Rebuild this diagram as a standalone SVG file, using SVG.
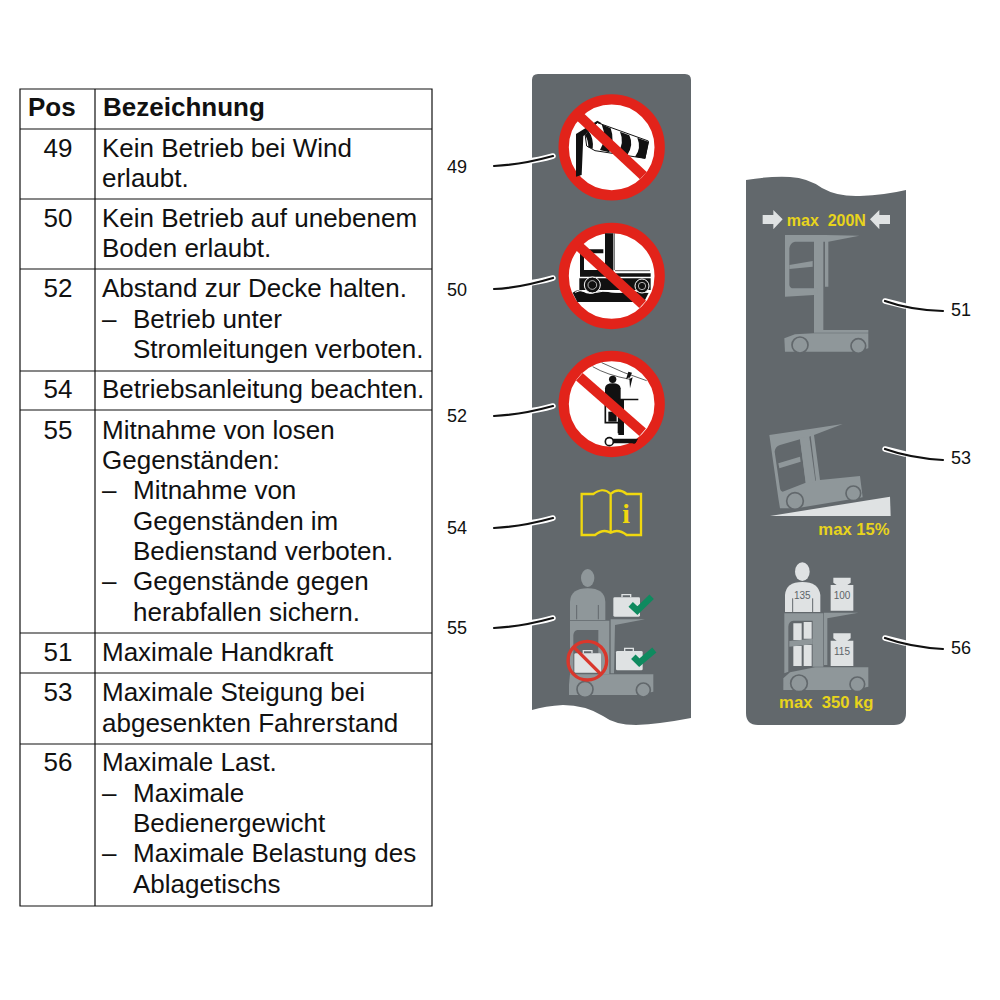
<svg xmlns="http://www.w3.org/2000/svg" width="1000" height="1000" viewBox="0 0 1000 1000">
<style>
text{font-family:"Liberation Sans",Arial,sans-serif;fill:#111}
.t{font-size:26px}
.b{font-weight:bold}
.c{text-anchor:middle}
.n{font-size:18px}
.y{fill:#e8d41c;font-weight:bold}
.w{font-size:30px;fill:#5d6468;text-anchor:middle}
.grid{stroke:#111;stroke-width:1.2;fill:none}
.halo{stroke:#fff;stroke-width:5.5;stroke-linecap:round;fill:none}
.lead{stroke:#111;stroke-width:2.2;stroke-linecap:round;fill:none}
.panel{fill:#62686c}
.g{fill:#8f979a}
.l{fill:#dfe2e3}
.d{fill:#62686c}
.wh{fill:#8f979a;stroke:#62686c;stroke-width:5}
.sl{stroke:#e2231a;stroke-width:30;fill:none}
.k{fill:#111}
.chk{fill:none;stroke:#0f8a5f;stroke-width:19}
</style>
<rect width="1000" height="1000" fill="#fff"/>
<g id="table">
<path class="grid" d="M20 89H432V906H20ZM95 89V906M20 129H432M20 199H432M20 269H432M20 371H432M20 410H432M20 633H432M20 673H432M20 744H432"/>
<text class="t b" x="28" y="116">Pos</text><text class="t b" x="103" y="116">Bezeichnung</text>
<text class="t c" x="58" y="157">49</text><text class="t" x="102" y="157">Kein Betrieb bei Wind</text><text class="t" x="102" y="187">erlaubt.</text>
<text class="t c" x="58" y="227">50</text><text class="t" x="102" y="227">Kein Betrieb auf unebenem</text><text class="t" x="102" y="257">Boden erlaubt.</text>
<text class="t c" x="58" y="297">52</text><text class="t" x="102" y="297">Abstand zur Decke halten.</text><text class="t" x="102" y="328">–</text><text class="t" x="133" y="328">Betrieb unter</text><text class="t" x="133" y="358">Stromleitungen verboten.</text>
<text class="t c" x="58" y="398">54</text><text class="t" x="102" y="398">Betriebsanleitung beachten.</text>
<text class="t c" x="58" y="439">55</text><text class="t" x="102" y="439">Mitnahme von losen</text><text class="t" x="102" y="469">Gegenständen:</text><text class="t" x="102" y="499">–</text><text class="t" x="133" y="499">Mitnahme von</text><text class="t" x="133" y="530">Gegenständen im</text><text class="t" x="133" y="560">Bedienstand verboten.</text><text class="t" x="102" y="590">–</text><text class="t" x="133" y="590">Gegenstände gegen</text><text class="t" x="133" y="621">herabfallen sichern.</text>
<text class="t c" x="58" y="661">51</text><text class="t" x="102" y="661">Maximale Handkraft</text>
<text class="t c" x="58" y="701">53</text><text class="t" x="102" y="701">Maximale Steigung bei</text><text class="t" x="102" y="732">abgesenkten Fahrerstand</text>
<text class="t c" x="58" y="771">56</text><text class="t" x="102" y="771">Maximale Last.</text><text class="t" x="102" y="802">–</text><text class="t" x="133" y="802">Maximale</text><text class="t" x="133" y="832">Bedienergewicht</text><text class="t" x="102" y="862">–</text><text class="t" x="133" y="862">Maximale Belastung des</text><text class="t" x="133" y="893">Ablagetischs</text>
</g>
<g id="panel-left"><path class="panel" d="M532 80Q532 74 538 74H685Q691 74 691 80V718Q660 724 636 725Q615 725 603 716Q585 705 563 705Q545 706 532 710Z"/></g>
<g id="panel-right"><path class="panel" d="M746 180Q770 176 790 177Q808 178 822 188Q838 197 860 196Q885 195 906 190V713Q906 725 894 725H758Q746 725 746 713Z"/></g>
<g id="sign-49" transform="translate(520 60) scale(.33333)">
<circle cx="275" cy="262" r="144" fill="#fff" stroke="#e2231a" stroke-width="31"/>
<path class="k" d="M168 350V222L232 182 245 190 190 228 185 345Z"/>
<path d="M195 222L232 188 385 243 375 295 225 272 200 258Z" fill="#fff" stroke="#111" stroke-width="3"/>
<path class="k" d="M195 225L205 212Q222 235 218 266L205 262Q205 240 195 225ZM245 193L272 205Q285 240 268 277L240 270Q262 235 245 193ZM300 215L328 226Q342 255 322 285L292 280Q315 250 300 215ZM352 233L387 246 376 296 345 290Q365 265 352 233Z"/>
<path class="sl" d="M180 170L370 347"/>
</g>
<g id="sign-50" transform="translate(520 60) scale(.33333)">
<circle cx="275" cy="648" r="144" fill="#fff" stroke="#e2231a" stroke-width="31"/>
<path class="k" d="M255 520H280V640H255ZM180 568H250V580H192V630H255V640H180ZM180 640H392V650H180ZM178 655H392V690H178Z"/>
<path d="M283 520V630M285 632H390" stroke="#111" stroke-width="2" fill="none"/>
<path d="M158 698Q175 685 190 695T225 698T260 695T295 698T330 695T365 698L386 698 372 726H172Z" class="k"/>
<path d="M165 697Q180 688 195 695T230 697T265 694T300 697T335 694T385 697" stroke="#fff" stroke-width="3" fill="none"/>
<circle cx="217" cy="675" r="24" fill="#111" stroke="#fff" stroke-width="3"/><circle cx="217" cy="675" r="13" fill="#111" stroke="#fff" stroke-width="2"/>
<circle cx="366" cy="678" r="21" fill="#111" stroke="#fff" stroke-width="3"/><circle cx="366" cy="678" r="11" fill="#111" stroke="#fff" stroke-width="2"/>
<path class="sl" d="M178 560L368 733"/>
</g>
<g id="sign-52" transform="translate(520 340) scale(.33333)">
<circle cx="275" cy="192" r="144" fill="#fff" stroke="#e2231a" stroke-width="31"/>
<path d="M218 80Q260 105 330 118M245 68Q310 100 380 122" stroke="#111" stroke-width="2" fill="none"/>
<path class="k" d="M325 95L318 118 328 112 330 145 338 112 328 117 336 98Z"/>
<circle class="k" cx="278" cy="118" r="11"/>
<path class="k" d="M255 145Q256 130 278 130T302 145V190H255Z"/>
<path class="k" d="M295 176H355V181H310L304 280H293V200H255V180H295Z"/>
<path d="M256 190H296V248H256Z" fill="#fff" stroke="#111" stroke-width="5"/>
<path d="M265 215H290V245H265Z" class="k"/>
<path class="k" d="M295 180H312V285H295Z"/>
<path class="k" d="M255 296H355L345 310H270Z"/><circle cx="268" cy="305" r="12" fill="#fff" stroke="#111" stroke-width="5"/>
<circle cx="342" cy="304" r="7" class="k"/>
<path class="sl" d="M178 110L368 277"/>
</g>
<g id="sign-54" transform="translate(520 340) scale(.33333)" fill="none" stroke="#f0d80f" stroke-width="7">
<path d="M272 462V578M272 462C255 445 235 450 220 462H185V585H225Q250 565 272 578Q295 565 320 585H363V462H320C305 450 290 445 272 462Z"/>
<text x="318" y="549" font-size="82" style="font-family:'Liberation Serif',serif;font-weight:bold;fill:#f0d80f;stroke:none" text-anchor="middle">i</text>
</g>
<g id="sign-55" transform="translate(520 340) scale(.33333)">
<ellipse class="g" cx="203" cy="714" rx="20" ry="27"/>
<path class="g" d="M150 840V785Q152 745 203 745T256 785V840Z"/>
<path d="M170 795V838M235 795V838" stroke="#62686c" stroke-width="3"/>
<path class="g" d="M150 842H268V1003H235V870H172Q162 872 160 885V1003H150ZM272 838H375L285 855 282 1000H272Z"/>
<path class="g" d="M150 1003H400V1055L350 1065H147V1035Z"/>
<circle class="wh" cx="195" cy="1048" r="24"/><circle class="wh" cx="370" cy="1050" r="21"/>
<rect class="l" x="280" y="772" width="80" height="58" rx="4"/><path d="M306 772V764H332V772" fill="none" stroke="#dfe2e3" stroke-width="4"/>
<path class="chk" d="M332 793L352 812 395 770"/>
<rect class="l" x="288" y="933" width="80" height="58" rx="4"/><path d="M314 933V925H340V933" fill="none" stroke="#dfe2e3" stroke-width="4"/>
<path class="chk" d="M340 950L358 968 403 930"/>
<rect class="l" x="163" y="940" width="80" height="58" rx="4"/><path d="M190 940V932H216V940" fill="none" stroke="#dfe2e3" stroke-width="4"/>
<circle cx="202" cy="962" r="58" fill="none" stroke="#d9372c" stroke-width="10"/>
<path d="M163 923L241 1001" stroke="#d9372c" stroke-width="10"/>
</g>
<g id="sign-51" transform="translate(740 170) scale(.33333)">
<path class="l" d="M68 135H100V120L128 148 100 178V162H68ZM450 135H418V120L390 148 418 178V162H450Z"/>
<text class="y" x="259" y="167" font-size="48" text-anchor="middle" xml:space="preserve">max  200N</text>
<path class="g" d="M135 195H255L358 197 265 215V350H255V215H250V480L385 480V488H222V375L135 380ZM148 215V345Q150 355 160 355H222V215H165Q150 218 148 235Z" fill-rule="evenodd"/>
<path class="g" d="M148 285L218 273V290L148 297ZM222 355H232V370H222Z"/>
<path class="g" d="M133 505L165 493 222 490H385V535L340 545H135Z"/>
<circle class="wh" cx="180" cy="525" r="24"/><circle class="wh" cx="355" cy="528" r="22"/>
</g>
<g id="sign-53" transform="translate(740 410) scale(.33333)">
<path class="g" d="M88 75L205 58 308 42 222 75 240 210 360 198 368 262 170 295H120L115 265Z"/>
<path class="d" d="M104 125Q105 110 120 105L180 88 197 218 128 245Q122 245 120 235Z"/>
<path class="g" d="M180 85L205 80 225 215 198 222ZM115 160L180 140 182 155 118 175Z"/>
<path class="d" d="M208 80L212 78 228 212 226 212Z"/>
<circle class="wh" cx="165" cy="273" r="25"/><circle class="wh" cx="340" cy="250" r="22"/>
<path class="l" d="M90 318L450 260 452 318Z"/>
<text class="y" x="342" y="375" font-size="50" text-anchor="middle">max 15%</text>
</g>
<g id="sign-56" transform="translate(740 410) scale(.33333)">
<ellipse class="l" cx="187" cy="485" rx="22" ry="28"/>
<path class="l" d="M135 606V555Q138 516 187 516T241 555V606Z"/>
<path d="M158 606V565M218 606V565" stroke="#62686c" stroke-width="3"/>
<text class="w" x="187" y="568">135</text>
<path class="l" d="M280 503H332V518L322 525H340V602H272V525H290L280 518Z"/>
<text class="w" x="306" y="568">100</text>
<path class="l" d="M280 670H332V685L322 692H340V768H272V692H290L280 685Z"/>
<text class="w" x="306" y="734">115</text>
<path class="g" d="M133 610H250V770H218V632H160Q146 634 145 650V785L133 790ZM252 608H355L262 625V765H252Z"/>
<path class="l" d="M160 640H185V690H160ZM191 636H215V686H191ZM160 708H185V768H160ZM191 705H215V768H191Z"/>
<path class="g" d="M148 693L218 686V703L148 710Z"/>
<path class="g" d="M130 805L150 787 225 772H385V830L340 840H130Z"/>
<circle class="wh" cx="177" cy="820" r="25"/><circle class="wh" cx="352" cy="823" r="22"/>
<text class="y" x="259" y="893" font-size="50" text-anchor="middle" xml:space="preserve">max  350 kg</text>
</g>
<g id="connectors">
<path class="halo" d="M522 162Q540 160 553 156M522 284Q540 282 553 278M522 412Q540 410 553 406M522 524Q540 522 553 518M522 624Q540 622 553 618M885 301L905 306M885 449L905 454M885 638L905 643"/>
<path class="lead" d="M494 166Q520 165 553 156M494 289Q520 288 553 278M494 416Q520 415 553 406M494 528Q520 527 553 518M494 628Q520 627 553 618M885 301Q910 310 943 311M885 449Q910 458 943 460M885 638Q910 647 943 649"/>
</g>
<g id="labels">
<text class="n" x="447" y="173">49</text><text class="n" x="447" y="296">50</text><text class="n" x="447" y="422">52</text><text class="n" x="447" y="534">54</text><text class="n" x="447" y="634">55</text>
<text class="n" x="951" y="316">51</text><text class="n" x="951" y="464">53</text><text class="n" x="951" y="654">56</text>
</g>
</svg>
